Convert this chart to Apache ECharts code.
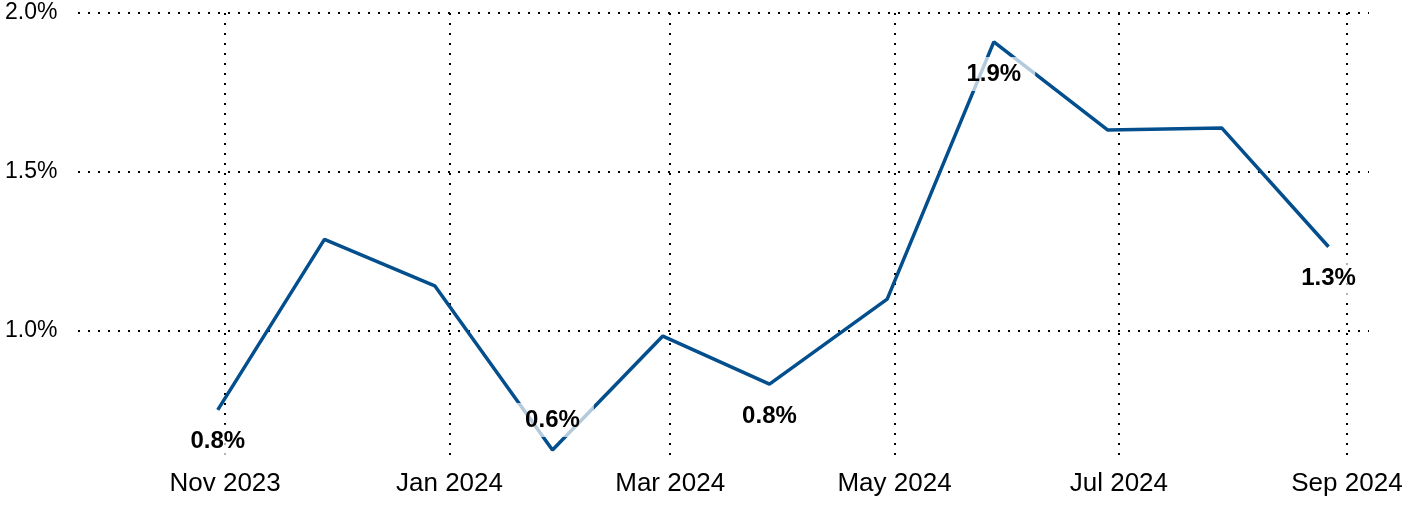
<!DOCTYPE html>
<html>
<head>
<meta charset="utf-8">
<script src="https://cdn.jsdelivr.net/npm/echarts@6/dist/echarts.min.js"></script>
<style>html,body{margin:0;padding:0;background:#fff}#c{width:1409px;height:505px}</style>
</head>
<body>
<div id="c"></div>
<script>
const dates = ['2023-10-30','2023-11-28','2023-12-28','2024-01-29','2024-02-28','2024-03-28','2024-04-29','2024-05-28','2024-06-28','2024-07-29','2024-08-27'];
const values = [0.752, 1.288, 1.142, 0.626, 0.984, 0.833, 1.100, 1.909, 1.632, 1.638, 1.265];
const labelPositions = ['bottom', null, null, 'top', null, 'bottom', null, 'bottom', null, null, 'bottom'];
const xTickDates = ['2023-11-01','2024-01-01','2024-03-01','2024-05-01','2024-07-01','2024-09-01'];
const xTickLabels = ['Nov 2023','Jan 2024','Mar 2024','May 2024','Jul 2024','Sep 2024'];
const yTicks = [1.0, 1.5, 2.0];

const ts = s => new Date(s + 'T00:00:00Z').getTime();
const xTicks = xTickDates.map(ts);

const font = 'Liberation Sans, Arial, sans-serif';
const seriesData = dates.map((d, i) => {
  const item = { value: [ts(d), values[i]] };
  if (labelPositions[i]) {
    item.label = {
      show: true,
      position: labelPositions[i],
      distance: labelPositions[i] === 'top' ? 12 : 14,
      formatter: values[i].toFixed(1) + '%',
      fontFamily: font,
      fontSize: 24,
      fontWeight: 'bold',
      color: '#000',
      backgroundColor: 'rgba(255,255,255,0.7)',
      padding: [5, 14]
    };
  }
  return item;
});

const chart = echarts.init(document.getElementById('c'), null, { renderer: 'canvas' });
const dotted = { color: '#000', width: 2, type: [2, 8] };
chart.setOption({
  animation: false,
  grid: { left: 78, right: 40, top: 13, bottom: 43, containLabel: false },
  xAxis: {
    type: 'value',
    min: ts('2023-09-22'),
    max: ts('2024-09-07'),
    axisLine: { show: false },
    axisTick: { show: false, customValues: xTicks },
    splitLine: { show: true, lineStyle: dotted },
    axisLabel: {
      customValues: xTicks,
      formatter: v => { const i = xTicks.indexOf(v); return i >= 0 ? xTickLabels[i] : ''; },
      fontFamily: font,
      fontSize: 26,
      color: '#000',
      margin: 9,
      hideOverlap: false
    }
  },
  yAxis: {
    type: 'value',
    min: 0.588,
    max: 2.0,
    axisLine: { show: false },
    axisTick: { show: false, customValues: yTicks },
    splitLine: { show: true, lineStyle: dotted },
    axisLabel: {
      customValues: yTicks,
      formatter: v => v.toFixed(1) + '%',
      fontFamily: font,
      fontSize: 23,
      color: '#000',
      align: 'left',
      margin: 73
    }
  },
  series: [{
    type: 'line',
    data: seriesData,
    symbol: 'circle',
    symbolSize: 2,
    showSymbol: true,
    itemStyle: { color: 'rgba(0,0,0,0)', borderWidth: 0 },
    lineStyle: { color: '#034f8e', width: 3.5 },
    label: { show: false },
    labelLayout: { hideOverlap: false }
  }]
});
</script>
</body>
</html>
